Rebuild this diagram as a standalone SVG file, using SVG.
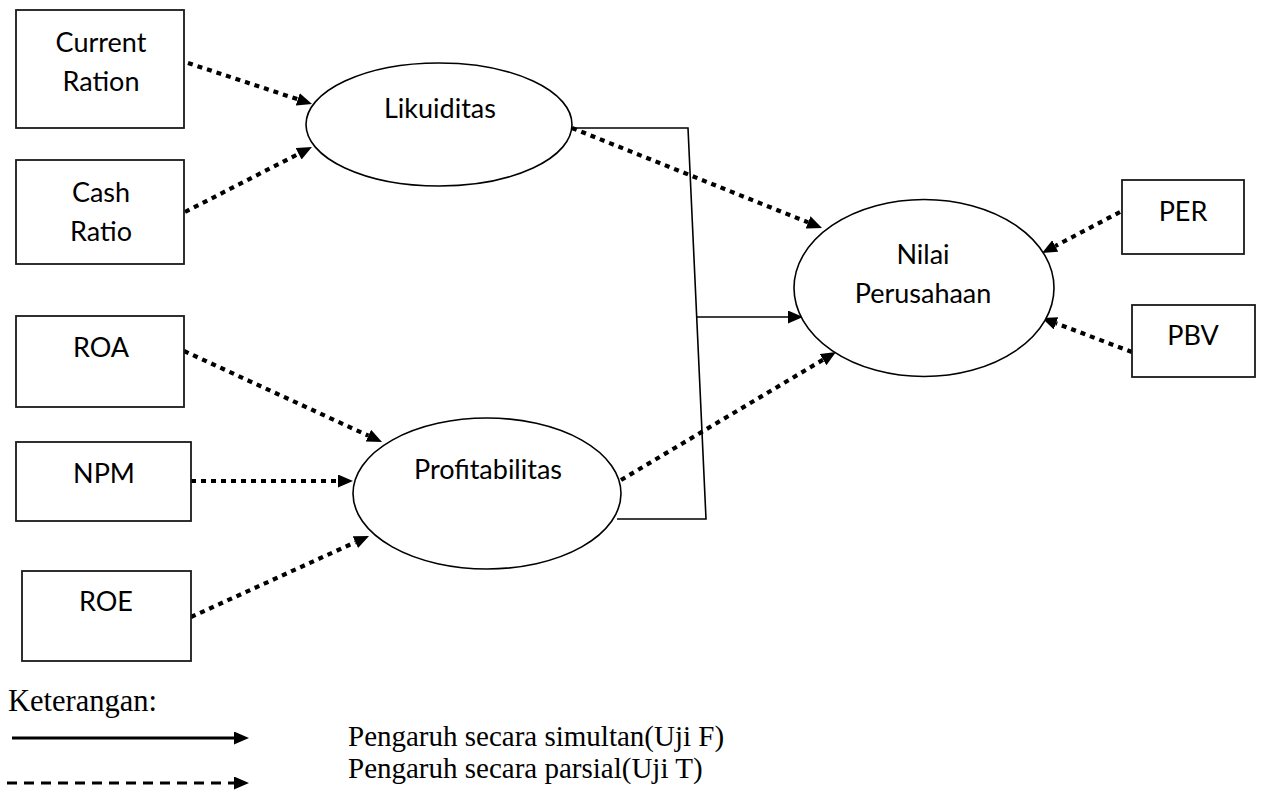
<svg xmlns="http://www.w3.org/2000/svg" width="1261" height="793" viewBox="0 0 1261 793">
<style>
.box{fill:#fff;stroke:#1a1a1a;stroke-width:1.8}
.ell{fill:#fff;stroke:#000;stroke-width:1.6}
.lbl{font-family:Lato,"Liberation Sans",sans-serif;font-size:27px;fill:#000;text-anchor:middle}
.dot{fill:none;stroke:#000;stroke-width:4.2;stroke-dasharray:5 5}
.sol{fill:none;stroke:#000;stroke-width:1.6}
.leg{font-family:"Liberation Serif","Times New Roman",serif;font-size:30.5px;fill:#000}
.leg2{font-family:"Liberation Serif","Times New Roman",serif;font-size:29px;fill:#000}
</style>
<defs>
<marker id="ah" markerUnits="userSpaceOnUse" markerWidth="16" markerHeight="14" refX="0" refY="6.5" orient="auto">
<path d="M0,0 L15,6.5 L0,13 z" fill="#000"/>
</marker>
</defs>
<rect width="1261" height="793" fill="#fff"/>

<g id="connectors">
<path class="dot" d="M188,63 L297.8,99.3" marker-end="url(#ah)"/>
<path class="dot" d="M185,212 L298.6,153.8" marker-end="url(#ah)"/>
<path class="dot" d="M572,128 L808.1,222.4" marker-end="url(#ah)"/>
<path class="dot" d="M184,351 L368.4,435.7" marker-end="url(#ah)"/>
<path class="dot" d="M191,481 L338,481" marker-end="url(#ah)"/>
<path class="dot" d="M191,617 L355.4,542.2" marker-end="url(#ah)"/>
<path class="dot" d="M621,480 L823.1,359.7" marker-end="url(#ah)"/>
<path class="dot" d="M1120,212 L1055.3,246" marker-end="url(#ah)"/>
<path class="dot" d="M1132,352 L1056,323.3" marker-end="url(#ah)"/>
<path class="sol" d="M572,128 L688,128 L706,519 L617,519"/>
<path class="sol" d="M697,317 L788,317" marker-end="url(#ah)"/>
</g>

<g id="current-ration">
<rect class="box" x="16" y="10" width="168" height="118"/>
<text class="lbl" x="101" y="52">Current</text>
<text class="lbl" x="101" y="91">Ration</text>
</g>
<g id="cash-ratio">
<rect class="box" x="16" y="160" width="168" height="104"/>
<text class="lbl" x="101" y="202">Cash</text>
<text class="lbl" x="101" y="241">Ratio</text>
</g>
<g id="roa">
<rect class="box" x="16" y="316" width="168" height="91"/>
<text class="lbl" x="101" y="357">ROA</text>
</g>
<g id="npm">
<rect class="box" x="16" y="442" width="175" height="79"/>
<text class="lbl" x="104" y="483">NPM</text>
</g>
<g id="roe">
<rect class="box" x="22" y="571" width="169" height="90"/>
<text class="lbl" x="106" y="611">ROE</text>
</g>
<g id="likuiditas">
<ellipse class="ell" cx="439" cy="124.5" rx="133" ry="61.5"/>
<text class="lbl" x="440" y="118">Likuiditas</text>
</g>
<g id="profitabilitas">
<ellipse class="ell" cx="487" cy="493.5" rx="134" ry="75.5"/>
<text class="lbl" x="488" y="479">Profitabilitas</text>
</g>
<g id="nilai-perusahaan">
<ellipse class="ell" cx="924" cy="288" rx="130" ry="88.5"/>
<text class="lbl" x="923" y="264">Nilai</text>
<text class="lbl" x="923" y="303">Perusahaan</text>
</g>
<g id="per">
<rect class="box" x="1122" y="180" width="122" height="74"/>
<text class="lbl" x="1183" y="221">PER</text>
</g>
<g id="pbv">
<rect class="box" x="1132" y="305" width="123" height="72"/>
<text class="lbl" x="1193" y="345">PBV</text>
</g>

<g id="legend">
<text class="leg" x="8" y="711">Keterangan:</text>
<path d="M12,738 L234,738" stroke="#000" stroke-width="3" fill="none" marker-end="url(#ah)"/>
<path d="M7,783 L234,783" stroke="#000" stroke-width="3" fill="none" stroke-dasharray="10 7" marker-end="url(#ah)"/>
<text class="leg2" x="348" y="746">Pengaruh secara simultan(Uji F)</text>
<text class="leg2" x="348" y="778">Pengaruh secara parsial(Uji T)</text>
</g>
</svg>
